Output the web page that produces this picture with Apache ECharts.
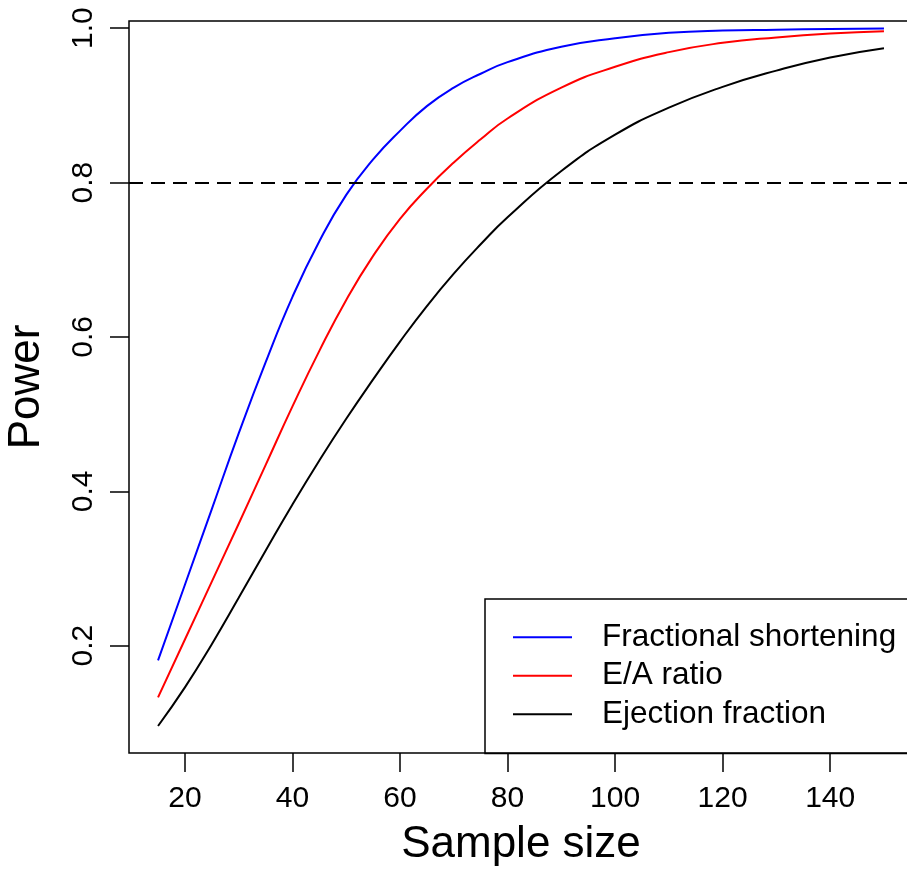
<!DOCTYPE html>
<html>
<head>
<meta charset="utf-8">
<script src="https://cdn.jsdelivr.net/npm/echarts@6/dist/echarts.min.js"></script>
<style>
html,body{margin:0;padding:0;background:#fff;}
#chart{width:907px;height:874px;}
</style>
</head>
<body>
<div id="chart"></div>
<script>
// ---- data ----
const sampleSize = [15,20,25,30,35,40,45,50,55,60,65,70,75,80,90,100,110,120,130,140,150];
const fractionalShortening = [0.181,0.279,0.377,0.475,0.567,0.652,0.724,0.784,0.830,0.867,0.899,0.923,0.941,0.956,0.976,0.987,0.994,0.997,0.998,0.999,0.9995];
const eaRatio = [0.133,0.208,0.283,0.358,0.434,0.510,0.582,0.648,0.705,0.753,0.792,0.826,0.856,0.883,0.923,0.950,0.969,0.981,0.988,0.993,0.996];
const ejectionFraction = [0.096,0.146,0.202,0.262,0.323,0.383,0.440,0.494,0.545,0.594,0.640,0.682,0.720,0.755,0.815,0.862,0.897,0.924,0.945,0.962,0.974];
const seriesNames = ['Fractional shortening','E/A ratio','Ejection fraction'];
const xTicks = [20,40,60,80,100,120,140];
const yTicks = [0.2,0.4,0.6,0.8,1.0];
const targetPower = 0.8;

const font = 'Liberation Sans, Arial, Helvetica, sans-serif';
const pairs = ys => sampleSize.map((n,i)=>[n, ys[i]]);

const chart = echarts.init(document.getElementById('chart'), null, {renderer:'canvas'});
chart.setOption({
  backgroundColor:'#ffffff',
  animation:false,
  textStyle:{fontFamily:font},
  grid:{left:129, top:21, right:-6, bottom:121, show:true, borderColor:'#000', borderWidth:1.5,
        containLabel:false, outerBoundsMode:'none'},
  xAxis:{
    type:'value', min:9.6, max:155.4,
    name:'Sample size', nameLocation:'middle', nameGap:70,
    nameTextStyle:{fontSize:44, color:'#000', fontFamily:font},
    axisLine:{show:false},
    splitLine:{show:false},
    axisTick:{show:true, length:19, customValues:xTicks, lineStyle:{color:'#000', width:1.5}},
    axisLabel:{customValues:xTicks, fontSize:30, color:'#000', margin:31, fontFamily:font}
  },
  yAxis:{
    type:'value', min:0.061, max:1.0093,
    name:'Power', nameLocation:'middle', nameGap:80,
    nameTextStyle:{fontSize:44, color:'#000', fontFamily:font},
    axisLine:{show:false},
    splitLine:{show:false},
    axisTick:{show:true, length:19, customValues:yTicks, lineStyle:{color:'#000', width:1.5}},
    axisLabel:{customValues:yTicks, rotate:90, fontSize:30, color:'#000', margin:30, fontFamily:font,
               formatter:v=>v.toFixed(1)}
  },
  legend:{
    data:seriesNames,
    orient:'vertical', left:485, top:599,
    padding:[19,60,20,28],
    itemGap:0, itemWidth:59, itemHeight:2, icon:'rect',
    borderColor:'#000', borderWidth:1.5,
    textStyle:{fontSize:31.5, color:'#000', fontFamily:font, lineHeight:38.5, padding:[0,0,0,25]}
  },
  series:[
    {name:seriesNames[2], type:'line', data:pairs(ejectionFraction), showSymbol:false, symbol:'none',
     smooth:0.5, lineStyle:{color:'#000', width:2}, itemStyle:{color:'#000'},
     markLine:{silent:true, symbol:'none', label:{show:false},
       lineStyle:{color:'#000', width:2, type:[14,8]}, data:[{yAxis:targetPower}]}},
    {name:seriesNames[1], type:'line', data:pairs(eaRatio), showSymbol:false, symbol:'none',
     smooth:0.5, lineStyle:{color:'#ff0000', width:2}, itemStyle:{color:'#ff0000'}},
    {name:seriesNames[0], type:'line', data:pairs(fractionalShortening), showSymbol:false, symbol:'none',
     smooth:0.5, lineStyle:{color:'#0000ff', width:2}, itemStyle:{color:'#0000ff'}}
  ]
});
</script>
</body>
</html>
